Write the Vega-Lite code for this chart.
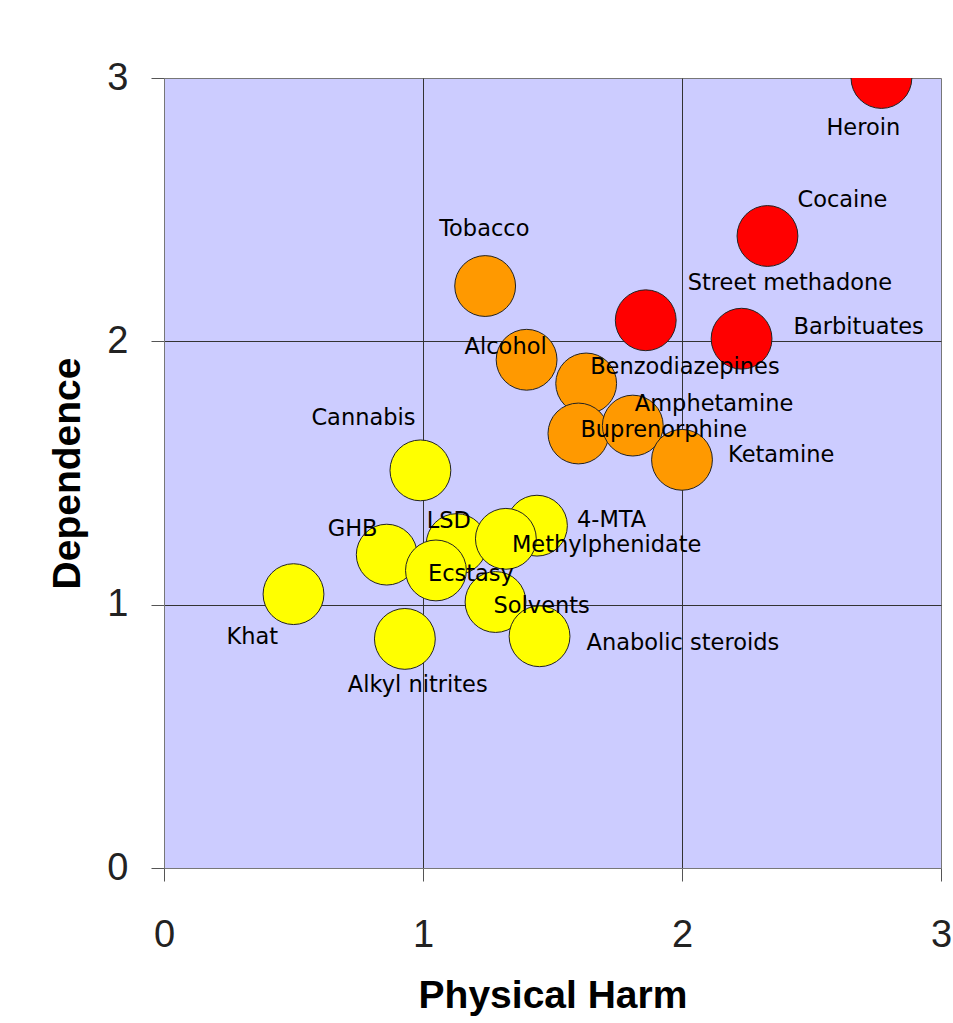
{
  "$schema": "https://vega.github.io/schema/vega-lite/v6.json",
  "width": 777,
  "height": 790,
  "autosize": {"type": "none"},
  "padding": {"left": 164, "top": 78, "right": 12, "bottom": 155},
  "background": "#ffffff",
  "config": {
    "view": {"fill": "#CCCCFF", "stroke": "#777777", "strokeWidth": 1},
    "axis": {
      "labelFont": "Liberation Sans",
      "labelFontSize": 38,
      "labelColor": "#222222",
      "tickSize": 13,
      "tickColor": "#555555",
      "domainColor": "#777777",
      "titleFont": "Liberation Sans",
      "titleFontSize": 39,
      "titleFontWeight": "bold",
      "titleColor": "#000000",
      "grid": true,
      "gridColor": "#333333",
      "gridWidth": 1,
      "gridOpacity": {"condition": {"test": "datum.value === 0 || datum.value === 3", "value": 0}, "value": 1},
      "labelFlush": false,
      "labelOverlap": false
    }
  },
  "data": {
    "values": [
      {"drug": "Heroin", "harm": 2.77, "dep": 3.0, "tier": "high"},
      {"drug": "Cocaine", "harm": 2.33, "dep": 2.4, "tier": "high"},
      {"drug": "Street methadone", "harm": 1.86, "dep": 2.08, "tier": "high"},
      {"drug": "Barbituates", "harm": 2.23, "dep": 2.01, "tier": "high"},
      {"drug": "Tobacco", "harm": 1.24, "dep": 2.21, "tier": "mid"},
      {"drug": "Alcohol", "harm": 1.4, "dep": 1.93, "tier": "mid"},
      {"drug": "Benzodiazepines", "harm": 1.63, "dep": 1.84, "tier": "mid"},
      {"drug": "Buprenorphine", "harm": 1.6, "dep": 1.65, "tier": "mid"},
      {"drug": "Amphetamine", "harm": 1.81, "dep": 1.68, "tier": "mid"},
      {"drug": "Ketamine", "harm": 2.0, "dep": 1.55, "tier": "mid"},
      {"drug": "Cannabis", "harm": 0.99, "dep": 1.51, "tier": "low"},
      {"drug": "4-MTA", "harm": 1.44, "dep": 1.3, "tier": "low"},
      {"drug": "LSD", "harm": 1.13, "dep": 1.23, "tier": "low"},
      {"drug": "Methylphenidate", "harm": 1.32, "dep": 1.25, "tier": "low"},
      {"drug": "GHB", "harm": 0.86, "dep": 1.19, "tier": "low"},
      {"drug": "Ecstasy", "harm": 1.05, "dep": 1.13, "tier": "low"},
      {"drug": "Solvents", "harm": 1.28, "dep": 1.01, "tier": "low"},
      {"drug": "Anabolic steroids", "harm": 1.45, "dep": 0.88, "tier": "low"},
      {"drug": "Khat", "harm": 0.5, "dep": 1.04, "tier": "low"},
      {"drug": "Alkyl nitrites", "harm": 0.93, "dep": 0.87, "tier": "low"}
    ]
  },
  "encoding": {
    "x": {
      "field": "harm", "type": "quantitative",
      "scale": {"domain": [0, 3], "nice": false, "zero": true},
      "axis": {"title": "Physical Harm", "values": [0, 1, 2, 3], "format": "d", "labelPadding": 35, "titlePadding": 22}
    },
    "y": {
      "field": "dep", "type": "quantitative",
      "scale": {"domain": [0, 3], "nice": false, "zero": true},
      "axis": {"title": "Dependence", "values": [0, 1, 2, 3], "format": "d", "labelPadding": 23, "titlePadding": 19}
    }
  },
  "layer": [
    {
      "mark": {"type": "circle", "size": 3700, "opacity": 1, "stroke": "#222222", "strokeWidth": 1, "clip": true},
      "encoding": {
        "color": {
          "field": "tier", "type": "nominal",
          "scale": {"domain": ["high", "mid", "low"], "range": ["#FF0000", "#FF9900", "#FFFF00"]},
          "legend": null
        }
      }
    },
    {"transform": [{"filter": "datum.drug === 'Heroin'"}], "mark": {"type": "text", "align": "left", "baseline": "alphabetic", "font": "DejaVu Sans", "fontSize": 22.5, "color": "#000000", "dx": -55, "dy": 57}, "encoding": {"text": {"field": "drug"}}},
    {"transform": [{"filter": "datum.drug === 'Cocaine'"}], "mark": {"type": "text", "align": "left", "baseline": "alphabetic", "font": "DejaVu Sans", "fontSize": 22.5, "color": "#000000", "dx": 30, "dy": -29}, "encoding": {"text": {"field": "drug"}}},
    {"transform": [{"filter": "datum.drug === 'Street methadone'"}], "mark": {"type": "text", "align": "left", "baseline": "alphabetic", "font": "DejaVu Sans", "fontSize": 22.5, "color": "#000000", "dx": 42, "dy": -30}, "encoding": {"text": {"field": "drug"}}},
    {"transform": [{"filter": "datum.drug === 'Barbituates'"}], "mark": {"type": "text", "align": "left", "baseline": "alphabetic", "font": "DejaVu Sans", "fontSize": 22.5, "color": "#000000", "dx": 52, "dy": -5}, "encoding": {"text": {"field": "drug"}}},
    {"transform": [{"filter": "datum.drug === 'Tobacco'"}], "mark": {"type": "text", "align": "left", "baseline": "alphabetic", "font": "DejaVu Sans", "fontSize": 22.5, "color": "#000000", "dx": -46, "dy": -50}, "encoding": {"text": {"field": "drug"}}},
    {"transform": [{"filter": "datum.drug === 'Alcohol'"}], "mark": {"type": "text", "align": "left", "baseline": "alphabetic", "font": "DejaVu Sans", "fontSize": 22.5, "color": "#000000", "dx": -62, "dy": -6}, "encoding": {"text": {"field": "drug"}}},
    {"transform": [{"filter": "datum.drug === 'Benzodiazepines'"}], "mark": {"type": "text", "align": "left", "baseline": "alphabetic", "font": "DejaVu Sans", "fontSize": 22.5, "color": "#000000", "dx": 4, "dy": -9}, "encoding": {"text": {"field": "drug"}}},
    {"transform": [{"filter": "datum.drug === 'Amphetamine'"}], "mark": {"type": "text", "align": "left", "baseline": "alphabetic", "font": "DejaVu Sans", "fontSize": 22.5, "color": "#000000", "dx": 2, "dy": -15}, "encoding": {"text": {"field": "drug"}}},
    {"transform": [{"filter": "datum.drug === 'Buprenorphine'"}], "mark": {"type": "text", "align": "left", "baseline": "alphabetic", "font": "DejaVu Sans", "fontSize": 22.5, "color": "#000000", "dx": 2, "dy": 3}, "encoding": {"text": {"field": "drug"}}},
    {"transform": [{"filter": "datum.drug === 'Ketamine'"}], "mark": {"type": "text", "align": "left", "baseline": "alphabetic", "font": "DejaVu Sans", "fontSize": 22.5, "color": "#000000", "dx": 46, "dy": 2}, "encoding": {"text": {"field": "drug"}}},
    {"transform": [{"filter": "datum.drug === 'Cannabis'"}], "mark": {"type": "text", "align": "left", "baseline": "alphabetic", "font": "DejaVu Sans", "fontSize": 22.5, "color": "#000000", "dx": -109, "dy": -45}, "encoding": {"text": {"field": "drug"}}},
    {"transform": [{"filter": "datum.drug === '4-MTA'"}], "mark": {"type": "text", "align": "left", "baseline": "alphabetic", "font": "DejaVu Sans", "fontSize": 22.5, "color": "#000000", "dx": 40, "dy": 1}, "encoding": {"text": {"field": "drug"}}},
    {"transform": [{"filter": "datum.drug === 'LSD'"}], "mark": {"type": "text", "align": "left", "baseline": "alphabetic", "font": "DejaVu Sans", "fontSize": 22.5, "color": "#000000", "dx": -30, "dy": -16}, "encoding": {"text": {"field": "drug"}}},
    {"transform": [{"filter": "datum.drug === 'Methylphenidate'"}], "mark": {"type": "text", "align": "left", "baseline": "alphabetic", "font": "DejaVu Sans", "fontSize": 22.5, "color": "#000000", "dx": 6, "dy": 13}, "encoding": {"text": {"field": "drug"}}},
    {"transform": [{"filter": "datum.drug === 'GHB'"}], "mark": {"type": "text", "align": "left", "baseline": "alphabetic", "font": "DejaVu Sans", "fontSize": 22.5, "color": "#000000", "dx": -59, "dy": -19}, "encoding": {"text": {"field": "drug"}}},
    {"transform": [{"filter": "datum.drug === 'Ecstasy'"}], "mark": {"type": "text", "align": "left", "baseline": "alphabetic", "font": "DejaVu Sans", "fontSize": 22.5, "color": "#000000", "dx": -8, "dy": 11}, "encoding": {"text": {"field": "drug"}}},
    {"transform": [{"filter": "datum.drug === 'Solvents'"}], "mark": {"type": "text", "align": "left", "baseline": "alphabetic", "font": "DejaVu Sans", "fontSize": 22.5, "color": "#000000", "dx": -2, "dy": 11}, "encoding": {"text": {"field": "drug"}}},
    {"transform": [{"filter": "datum.drug === 'Anabolic steroids'"}], "mark": {"type": "text", "align": "left", "baseline": "alphabetic", "font": "DejaVu Sans", "fontSize": 22.5, "color": "#000000", "dx": 47, "dy": 14}, "encoding": {"text": {"field": "drug"}}},
    {"transform": [{"filter": "datum.drug === 'Khat'"}], "mark": {"type": "text", "align": "left", "baseline": "alphabetic", "font": "DejaVu Sans", "fontSize": 22.5, "color": "#000000", "dx": -67, "dy": 50}, "encoding": {"text": {"field": "drug"}}},
    {"transform": [{"filter": "datum.drug === 'Alkyl nitrites'"}], "mark": {"type": "text", "align": "left", "baseline": "alphabetic", "font": "DejaVu Sans", "fontSize": 22.5, "color": "#000000", "dx": -57, "dy": 53}, "encoding": {"text": {"field": "drug"}}}
  ]
}
